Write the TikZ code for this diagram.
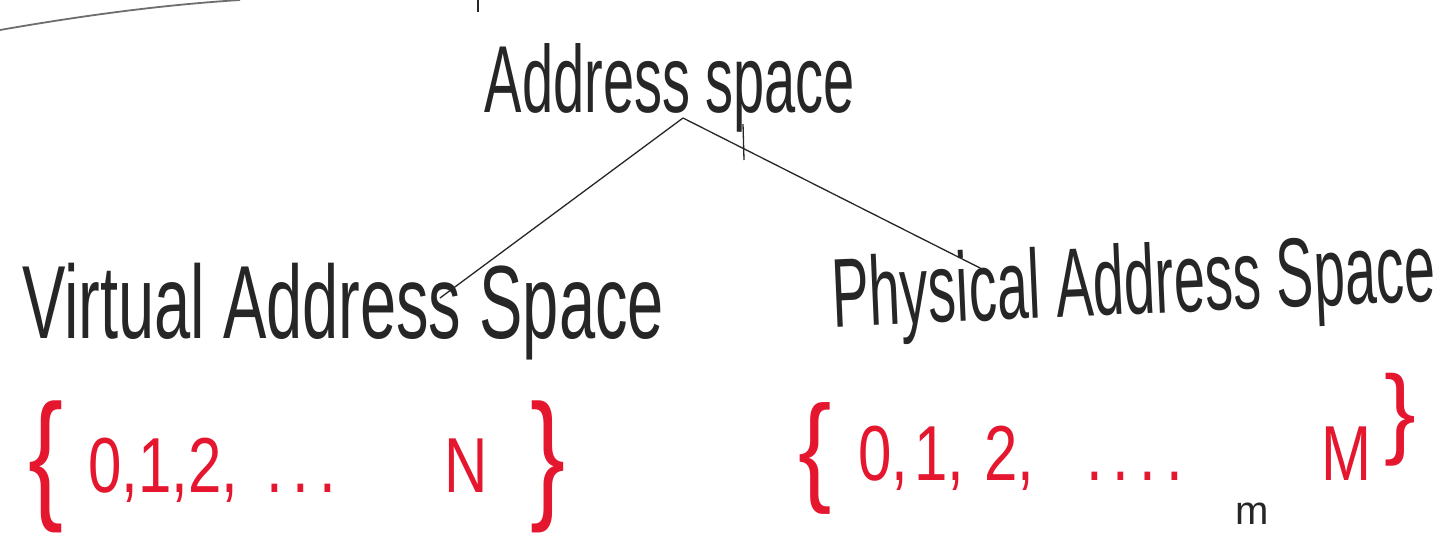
\documentclass[tikz,border=0pt]{standalone}
\usepackage{fontspec}
\setmainfont{Liberation Sans}
\definecolor{ink}{HTML}{262626}
\definecolor{redink}{HTML}{E5172F}
\definecolor{faint}{HTML}{6E6E6E}
\begin{document}
\begin{tikzpicture}[x=1pt,y=-1pt,
  hand/.style={inner sep=0pt, text=ink, anchor=base},
  redset/.style={inner sep=0pt, text=redink, anchor=base},
  brace/.style={inner sep=0pt, text=redink, anchor=center},
  edge/.style={draw=ink, line width=1.3pt}]
\useasboundingbox[fill=white] (0,0) rectangle (1453,550);
% top scraps
\draw[faint, line width=1.8pt] (0,30) .. controls (80,16) and (160,5) .. (240,0);
\draw[ink, line width=1.3pt] (478,0) -- (478,12);
% titles
\node[hand] (root) at (670,112) {\scalebox{1}[1.7]{\fontsize{56}{60}\selectfont Address space}};
\node[hand] (vas) at (343,338) {\scalebox{1}[1.6]{\fontsize{65}{70}\selectfont Virtual Address Space}};
\node[hand, rotate=2.5] (pas) at (1135,314) {\scalebox{1}[1.75]{\fontsize{56}{60}\selectfont Physical Address Space}};
% tree
\coordinate (apex) at (683,118);
\coordinate (vtop) at (440,298);
\coordinate (ptop) at (984,270);
\draw[edge] (apex) -- (vtop);
\draw[edge] (apex) -- (ptop);
\coordinate (tickA) at (743,124);
\coordinate (tickB) at (744,160);
\draw[edge] (tickA) -- (tickB);
% red sets
\node[brace] (lb1) at (46,467) {\scalebox{1}[1.35]{\fontsize{105}{105}\selectfont\{}};
\node[redset, anchor=base west] (set1) at (88,492) {\scalebox{1}[1.3]{\fontsize{60}{66}\selectfont 0,1,2,\hspace{28pt}.\,.\,.\hspace{108pt}N}};
\node[brace] (rb1) at (548,467) {\scalebox{1}[1.35]{\fontsize{105}{105}\selectfont\}}};
\node[brace] (lb2) at (815,458) {\scalebox{1}[1.2]{\fontsize{100}{100}\selectfont\{}};
\node[redset, anchor=base west] (set2) at (858,480) {\scalebox{1}[1.3]{\fontsize{60}{66}\selectfont 0,\hspace{6pt}1,\hspace{20pt}2,\hspace{52pt}.\,.\,.\,.\hspace{138pt}M}};
\node[brace] (rb2) at (1400,420) {\scalebox{1}[1.05]{\fontsize{95}{95}\selectfont\}}};
% bottom scrap
\node[hand] (sup) at (1252,524) {\fontsize{40}{40}\selectfont m};
\end{tikzpicture}
\end{document}
